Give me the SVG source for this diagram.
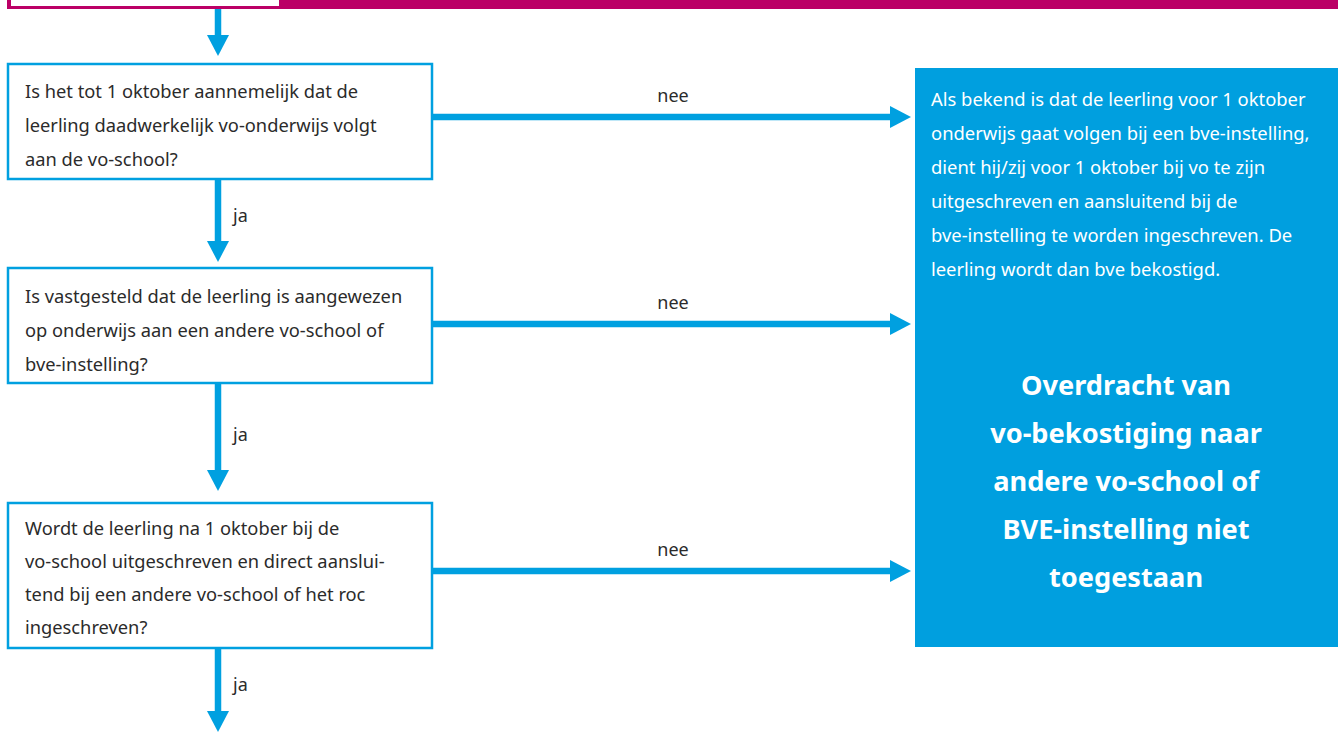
<svg xmlns="http://www.w3.org/2000/svg" width="1341" height="733" viewBox="0 0 1341 733">
<defs>
<style>
.box{fill:#ffffff;stroke:#00a0e0;stroke-width:2.5}
.conn{stroke:#00a0e0;stroke-width:6.5;fill:none}
.t{font-family:"Noto Sans","Open Sans",sans-serif;font-size:18.3px;fill:#2b2b2b}
.w{font-family:"Noto Sans","Open Sans",sans-serif;font-size:18.4px;fill:#ffffff}
.b{font-family:"Noto Sans","Open Sans",sans-serif;font-size:27.2px;font-weight:bold;fill:#ffffff;text-anchor:middle}
.lbl{font-family:"Noto Sans","Open Sans",sans-serif;font-size:18px;fill:#2b2b2b}
</style>
<marker id="ah" markerUnits="userSpaceOnUse" markerWidth="22" markerHeight="24" refX="1" refY="12" orient="auto" viewBox="0 0 22 24">
<path d="M0,1 L21,12 L0,23 Z" fill="#00a0e0"/>
</marker>
</defs>
<g id="header">
<rect x="7" y="0" width="1331" height="9" fill="#bb0066"/>
<rect x="11" y="0" width="268" height="6" fill="#ffffff"/>
</g>
<g id="connectors">
<line class="conn" x1="218" y1="9" x2="218" y2="36" marker-end="url(#ah)"/>
<line class="conn" x1="218" y1="179" x2="218" y2="242" marker-end="url(#ah)"/>
<line class="conn" x1="218" y1="383" x2="218" y2="471" marker-end="url(#ah)"/>
<line class="conn" x1="218" y1="648" x2="218" y2="712" marker-end="url(#ah)"/>
<line class="conn" x1="432" y1="117" x2="891" y2="117" marker-end="url(#ah)"/>
<line class="conn" x1="432" y1="324" x2="891" y2="324" marker-end="url(#ah)"/>
<line class="conn" x1="432" y1="571" x2="891" y2="571" marker-end="url(#ah)"/>
<text class="lbl" x="233" y="222">ja</text>
<text class="lbl" x="233" y="441">ja</text>
<text class="lbl" x="233" y="691">ja</text>
<text class="lbl" x="673" y="102" text-anchor="middle">nee</text>
<text class="lbl" x="673" y="309" text-anchor="middle">nee</text>
<text class="lbl" x="673" y="556" text-anchor="middle">nee</text>
</g>
<g id="q1">
<rect class="box" x="8" y="64" width="424" height="115"/>
<text class="t" x="25" y="98">Is het tot 1 oktober aannemelijk dat de</text>
<text class="t" x="25" y="132">leerling daadwerkelijk vo-onderwijs volgt</text>
<text class="t" x="25" y="166">aan de vo-school?</text>
</g>
<g id="q2">
<rect class="box" x="8" y="268" width="424" height="115"/>
<text class="t" x="25" y="303">Is vastgesteld dat de leerling is aangewezen</text>
<text class="t" x="25" y="337">op onderwijs aan een andere vo-school of</text>
<text class="t" x="25" y="371">bve-instelling?</text>
</g>
<g id="q3">
<rect class="box" x="8" y="503" width="424" height="145"/>
<text class="t" x="25" y="535">Wordt de leerling na 1 oktober bij de</text>
<text class="t" x="25" y="568">vo-school uitgeschreven en direct aanslui-</text>
<text class="t" x="25" y="601">tend bij een andere vo-school of het roc</text>
<text class="t" x="25" y="634">ingeschreven?</text>
</g>
<g id="result">
<rect x="915" y="68" width="423" height="579" fill="#009fdf"/>
<text class="w" x="931" y="106">Als bekend is dat de leerling voor 1 oktober</text>
<text class="w" x="931" y="140">onderwijs gaat volgen bij een bve-instelling,</text>
<text class="w" x="931" y="174">dient hij/zij voor 1 oktober bij vo te zijn</text>
<text class="w" x="931" y="208">uitgeschreven en aansluitend bij de</text>
<text class="w" x="931" y="242">bve-instelling te worden ingeschreven. De</text>
<text class="w" x="931" y="276">leerling wordt dan bve bekostigd.</text>
<text class="b" x="1126" y="395">Overdracht van</text>
<text class="b" x="1126" y="443">vo-bekostiging naar</text>
<text class="b" x="1126" y="491">andere vo-school of</text>
<text class="b" x="1126" y="539">BVE-instelling niet</text>
<text class="b" x="1126" y="587">toegestaan</text>
</g>
</svg>
